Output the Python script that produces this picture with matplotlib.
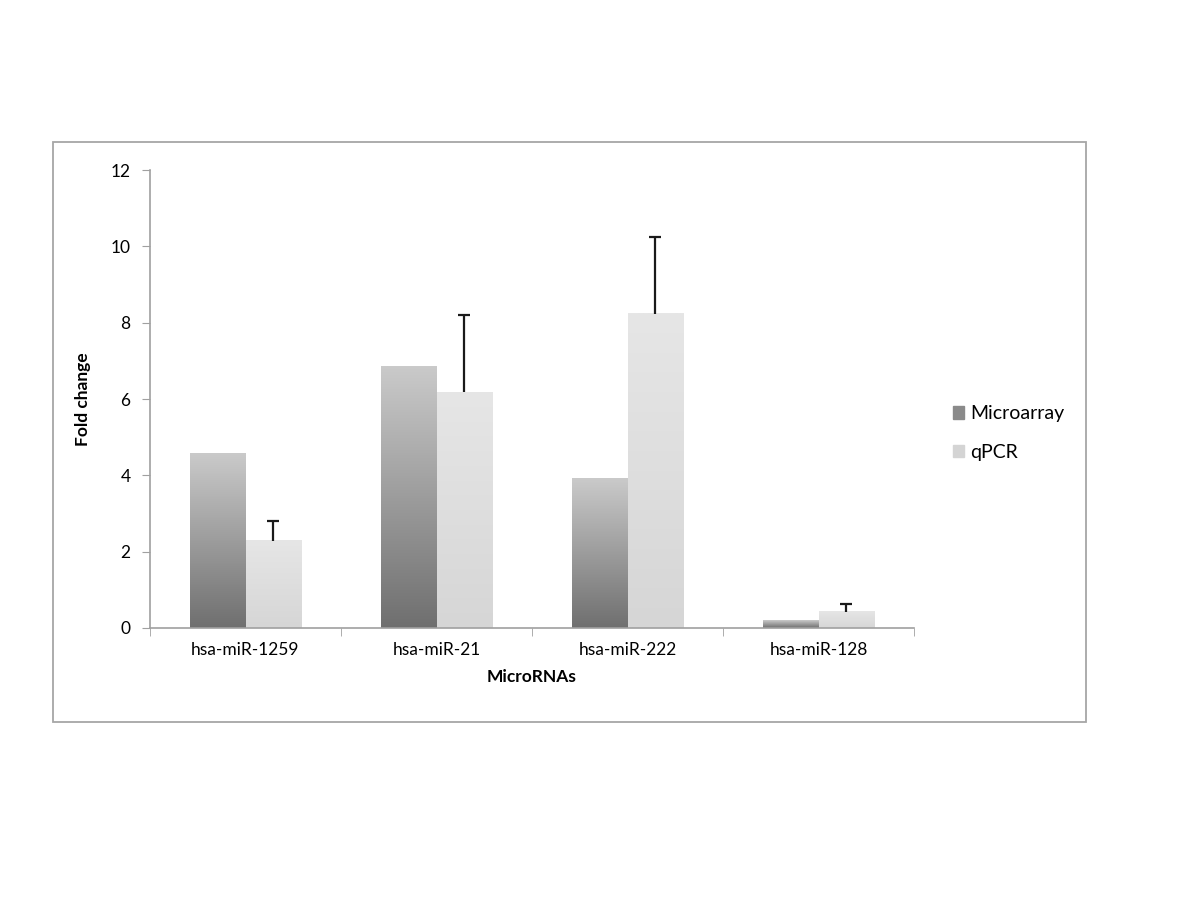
import numpy as np
import matplotlib.pyplot as plt
from matplotlib.patches import Rectangle
from matplotlib.colors import LinearSegmentedColormap

# data
categories = ['hsa-miR-1259', 'hsa-miR-21', 'hsa-miR-222', 'hsa-miR-128']
microarray = [4.58, 6.86, 3.93, 0.19]
qpcr = [2.28, 6.18, 8.23, 0.42]
qpcr_err = [0.52, 2.02, 2.01, 0.21]
yticks = [0, 2, 4, 6, 8, 10, 12]

plt.rcParams['font.family'] = ['Lato', 'DejaVu Sans']

fig = plt.figure(figsize=(12, 9), dpi=100)
fig.patch.set_facecolor('white')

# outer chart frame
frame = Rectangle((53 / 1200, 1 - 722 / 900), (1086 - 53) / 1200, (722 - 142) / 900,
                  transform=fig.transFigure, fill=False, edgecolor='#a6a6a6', lw=1.3)
fig.patches.append(frame)

ax = fig.add_axes([150 / 1200, 1 - 628 / 900, (914 - 150) / 1200, (628 - 170) / 900])

x = np.arange(len(categories))
w = 0.29

cmap_dark = LinearSegmentedColormap.from_list('dark', ['#6f6f6f', '#cacaca'])
cmap_light = LinearSegmentedColormap.from_list('light', ['#d6d6d6', '#e6e6e6'])
grad = np.linspace(0, 1, 256).reshape(-1, 1)


def gradient_bars(bars, cmap):
    for b in bars:
        x0, y0 = b.get_x(), b.get_y()
        x1, y1 = x0 + b.get_width(), y0 + b.get_height()
        b.set_facecolor('none')
        b.set_edgecolor('none')
        ax.imshow(grad, extent=(x0, x1, y0, y1), origin='lower', cmap=cmap,
                  aspect='auto', zorder=2)


b1 = ax.bar(x - w / 2, microarray, w)
b2 = ax.bar(x + w / 2, qpcr, w)
gradient_bars(b1, cmap_dark)
gradient_bars(b2, cmap_light)

# upper-only error bars
tops = np.array(qpcr) + np.array(qpcr_err)
ax.vlines(x + w / 2, qpcr, tops, color='#1a1a1a', lw=1.6, zorder=3)
ax.hlines(tops, x + w / 2 - 0.032, x + w / 2 + 0.032, color='#1a1a1a', lw=1.6, zorder=3)

ax.set_xlim(-0.5, len(categories) - 0.5)
ax.set_ylim(0, 12)
ax.set_yticks(yticks)
ax.set_yticklabels([str(t) for t in yticks], fontsize=12.5)
ax.set_xticks(x)
ax.set_xticklabels(categories, fontsize=12.5)
ax.set_xticks(np.arange(len(categories) + 1) - 0.5, minor=True)
ax.tick_params(axis='x', which='major', length=0, pad=10)
ax.tick_params(axis='x', which='minor', length=6, color='#a0a0a0')
ax.tick_params(axis='y', length=6, color='#a0a0a0', pad=8)

for s in ['top', 'right']:
    ax.spines[s].set_visible(False)
for s in ['left', 'bottom']:
    ax.spines[s].set_color('#a0a0a0')
    ax.spines[s].set_linewidth(1.2)

ax.set_xlabel('MicroRNAs', fontsize=12.5, fontweight='bold', labelpad=8)
ax.set_ylabel('Fold change', fontsize=12.5, fontweight='bold', labelpad=14)

# legend
handles = [Rectangle((0, 0), 1, 1, color='#8a8a8a'), Rectangle((0, 0), 1, 1, color='#d4d4d4')]
fig.legend(handles, ['Microarray', 'qPCR'], loc='center left',
           bbox_to_anchor=(935 / 1200, 1 - 433 / 900), frameon=False, fontsize=14,
           handlelength=0.6, handleheight=0.6, handletextpad=0.3, labelspacing=1.1)

fig.savefig('out.png', dpi=100)
